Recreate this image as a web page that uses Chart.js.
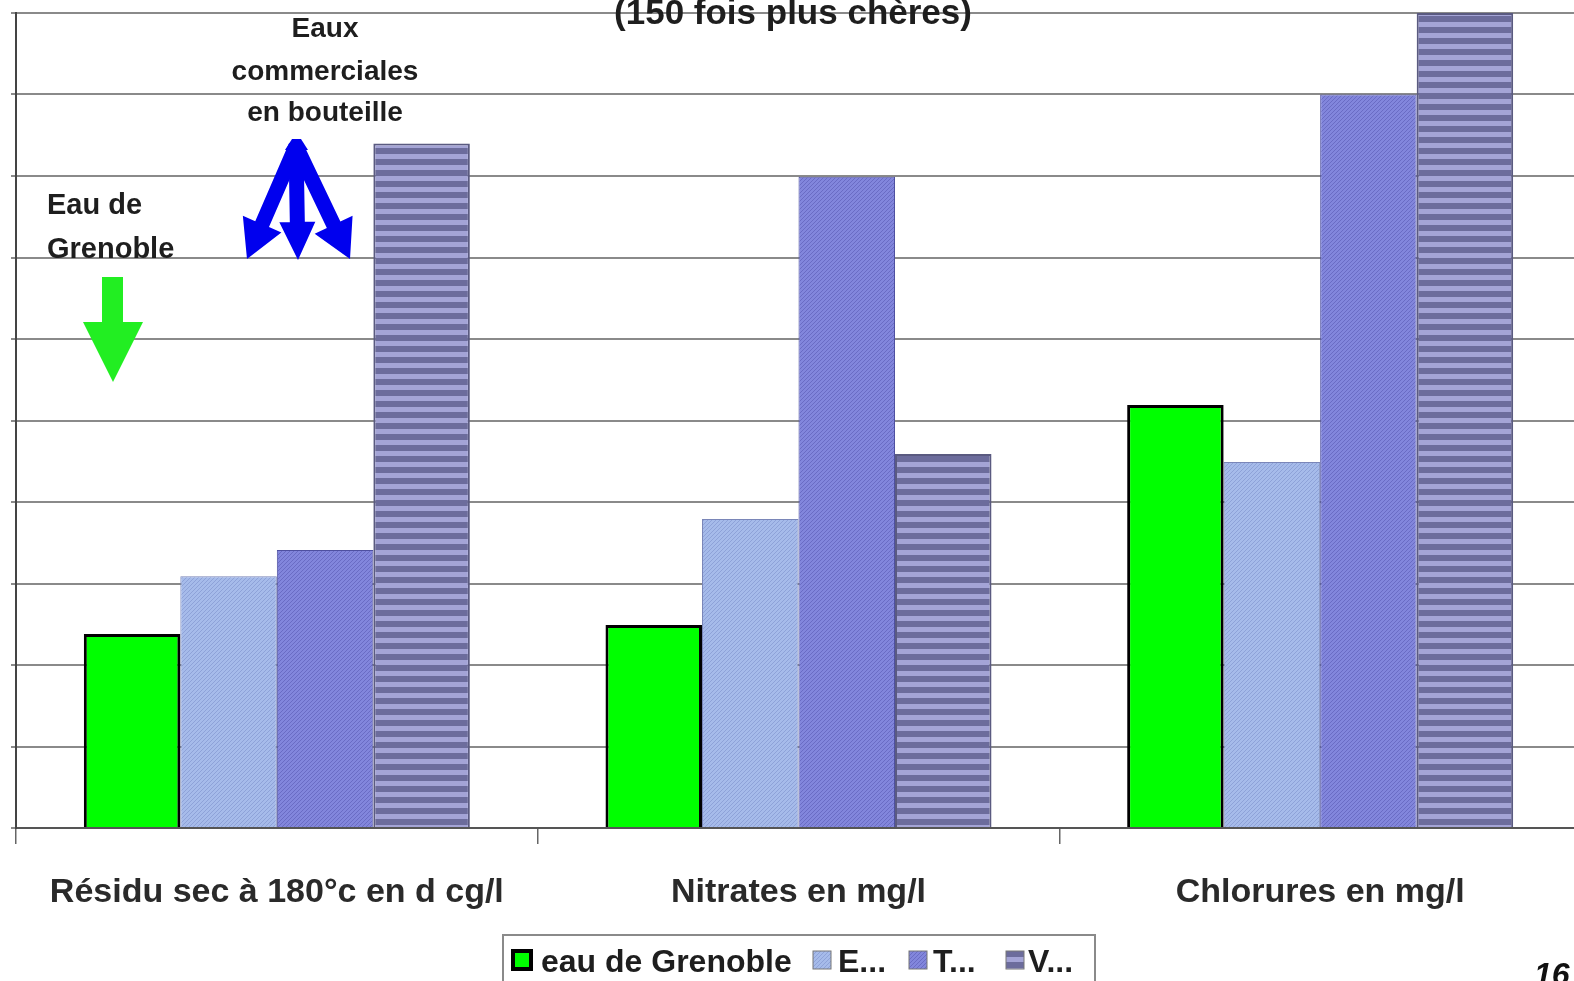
<!DOCTYPE html>
<html>
<head>
<meta charset="utf-8">
<script src="https://cdn.jsdelivr.net/npm/chart.js@4.4.1/dist/chart.umd.min.js"></script>
<style>
  html, body { margin: 0; padding: 0; background: #ffffff; overflow: hidden; }
  #wrap { position: relative; width: 1581px; height: 981px; }
</style>
</head>
<body>
<div id="wrap"><canvas id="c"></canvas></div>
<script>
// ---- data ----
const categories = ['Résidu sec à 180°c en d cg/l', 'Nitrates en mg/l', 'Chlorures en mg/l'];
const seriesLabels = ['eau de Grenoble', 'E...', 'T...', 'V...'];
const grenoble = [2.38, 2.49, 5.19];
const eauE = [3.09, 3.79, 4.49];
const eauT = [3.41, 7.99, 9.0];
const eauV = [8.40, 4.59, 10.0];
const yMin = 0, yMax = 10, yStep = 1;
const titleText = '(150 fois plus chères)';
const noteBottled = ['Eaux', 'commerciales', 'en bouteille'];
const noteGrenoble = ['Eau de', 'Grenoble'];
const pageNumber = '16';

// ---- patterns ----
function makePattern(w, h, draw) {
  const c = document.createElement('canvas');
  c.width = w; c.height = h;
  const g = c.getContext('2d');
  draw(g, w, h);
  return g.createPattern(c, 'repeat');
}
const patE = makePattern(4, 4, (g, w, h) => {
  g.fillStyle = '#a6bbea'; g.fillRect(0, 0, w, h);
  g.fillStyle = '#8ea2d8';
  for (let i = 0; i < 4; i++) g.fillRect(i, (3 - i), 1, 1);
});
const patT = makePattern(4, 4, (g, w, h) => {
  g.fillStyle = '#8286dc'; g.fillRect(0, 0, w, h);
  g.fillStyle = '#6a6cc4';
  g.fillRect(0, 0, 1, 1); g.fillRect(2, 2, 1, 1); g.fillRect(1, 3, 1, 1); g.fillRect(3, 1, 1, 1);
});
const patV = makePattern(8, 11, (g, w, h) => {
  g.fillStyle = '#a4a4d6'; g.fillRect(0, 0, w, h);
  g.fillStyle = '#6c6c9c'; g.fillRect(0, 5, w, 6);
});

const FONT = "'Liberation Sans', Arial, sans-serif";

const annotations = {
  id: 'annotations',
  afterDraw(chart) {
    const ctx = chart.ctx;
    ctx.save();
    // Title (partly cut at top)
    ctx.fillStyle = '#1e1e1e';
    ctx.font = 'bold 35px ' + FONT;
    ctx.textAlign = 'center';
    ctx.textBaseline = 'alphabetic';
    ctx.fillText(titleText, 793, 24);

    // Bottled water note
    ctx.font = 'bold 28px ' + FONT;
    ctx.fillStyle = '#1e1e1e';
    const bl = [37, 80, 121];
    noteBottled.forEach((t, i) => ctx.fillText(t, 325, bl[i]));
    // Grenoble note
    ctx.textAlign = 'left';
    ctx.font = 'bold 29px ' + FONT;
    ctx.fillText(noteGrenoble[0], 47, 214);
    ctx.fillText(noteGrenoble[1], 47, 258);

    // Green arrow
    ctx.fillStyle = '#22ee22';
    ctx.beginPath();
    ctx.moveTo(102, 277); ctx.lineTo(123, 277); ctx.lineTo(123, 322);
    ctx.lineTo(143, 322); ctx.lineTo(113, 382); ctx.lineTo(83, 322);
    ctx.lineTo(102, 322); ctx.closePath(); ctx.fill();

    // Blue arrows
    function arrow(x1, y1, x2, y2, sw, hw, hl) {
      const ang = Math.atan2(y2 - y1, x2 - x1);
      const len = Math.hypot(x2 - x1, y2 - y1);
      ctx.save();
      ctx.translate(x1, y1); ctx.rotate(ang);
      ctx.beginPath();
      ctx.moveTo(0, -sw / 2); ctx.lineTo(len - hl, -sw / 2); ctx.lineTo(len - hl, -hw / 2);
      ctx.lineTo(len, 0); ctx.lineTo(len - hl, hw / 2); ctx.lineTo(len - hl, sw / 2);
      ctx.lineTo(0, sw / 2); ctx.closePath(); ctx.fill();
      ctx.restore();
    }
    ctx.fillStyle = '#0000ee';
    arrow(296, 146, 247, 259, 15, 42, 38);
    arrow(296, 146, 298, 260, 15, 36, 38);
    arrow(296, 146, 350, 259, 15, 42, 38);
    // cover apex
    ctx.beginPath();
    ctx.moveTo(285, 150); ctx.lineTo(292, 139); ctx.lineTo(301, 139); ctx.lineTo(308, 150); ctx.closePath(); ctx.fill();

    // Legend
    const lx = 503, ly = 935, lw = 592, lh = 52;
    ctx.fillStyle = '#ffffff';
    ctx.fillRect(lx, ly, lw, lh);
    ctx.strokeStyle = '#8a8a8a'; ctx.lineWidth = 2;
    ctx.strokeRect(lx, ly, lw, lh);
    ctx.font = 'bold 32px ' + FONT;
    ctx.textBaseline = 'alphabetic';
    ctx.textAlign = 'left';
    const markerX = [513, 813, 909, 1006];
    const textX = [541, 838, 933, 1028];
    chart.data.datasets.forEach((ds, i) => {
      ctx.fillStyle = ds.backgroundColor;
      ctx.fillRect(markerX[i], 951, 18, 18);
      ctx.strokeStyle = i === 0 ? '#000' : '#777';
      ctx.lineWidth = i === 0 ? 4 : 1;
      ctx.strokeRect(markerX[i], 951, 18, 18);
      ctx.fillStyle = '#1e1e1e';
      ctx.fillText(ds.label, textX[i], 972);
    });

    // Page number
    ctx.font = 'italic bold 32px ' + FONT;
    ctx.fillStyle = '#111';
    ctx.fillText(pageNumber, 1534, 985);
    ctx.restore();
  }
};

new Chart(document.getElementById('c'), {
  type: 'bar',
  data: {
    labels: categories,
    datasets: [
      { label: seriesLabels[0], data: grenoble, backgroundColor: '#00ff00', borderColor: '#000000', borderWidth: 3 },
      { label: seriesLabels[1], data: eauE, backgroundColor: patE, borderColor: '#7a86b8', borderWidth: 1 },
      { label: seriesLabels[2], data: eauT, backgroundColor: patT, borderColor: '#4e50a0', borderWidth: 1 },
      { label: seriesLabels[3], data: eauV, backgroundColor: patV, borderColor: '#5a5a80', borderWidth: 2 }
    ]
  },
  options: {
    responsive: true,
    maintainAspectRatio: false,
    animation: false,
    layout: { padding: { top: 13, left: 0, right: 0, bottom: 0 } },
    categoryPercentage: 0.74,
    barPercentage: 1.0,
    plugins: { legend: { display: false }, tooltip: { enabled: false }, title: { display: false } },
    scales: {
      x: {
        afterFit(s) { s.height = 153; },
        grid: { display: true, drawOnChartArea: false, drawTicks: true, tickLength: 16, color: '#666', lineWidth: 1.5, offset: true },
        border: { display: true, color: '#555', width: 2 },
        ticks: { color: '#2a2a2a', font: { family: FONT, size: 34, weight: 'bold' }, padding: 28, maxRotation: 0, autoSkip: false }
      },
      y: {
        min: yMin, max: yMax,
        afterFit(s) { s.width = 16; },
        grid: { color: '#8a8a8a', lineWidth: 2, drawTicks: true, tickLength: 5 },
        border: { display: true, color: '#444', width: 2 },
        ticks: { display: false, stepSize: yStep }
      }
    }
  },
  plugins: [annotations]
});
</script>
</body>
</html>
